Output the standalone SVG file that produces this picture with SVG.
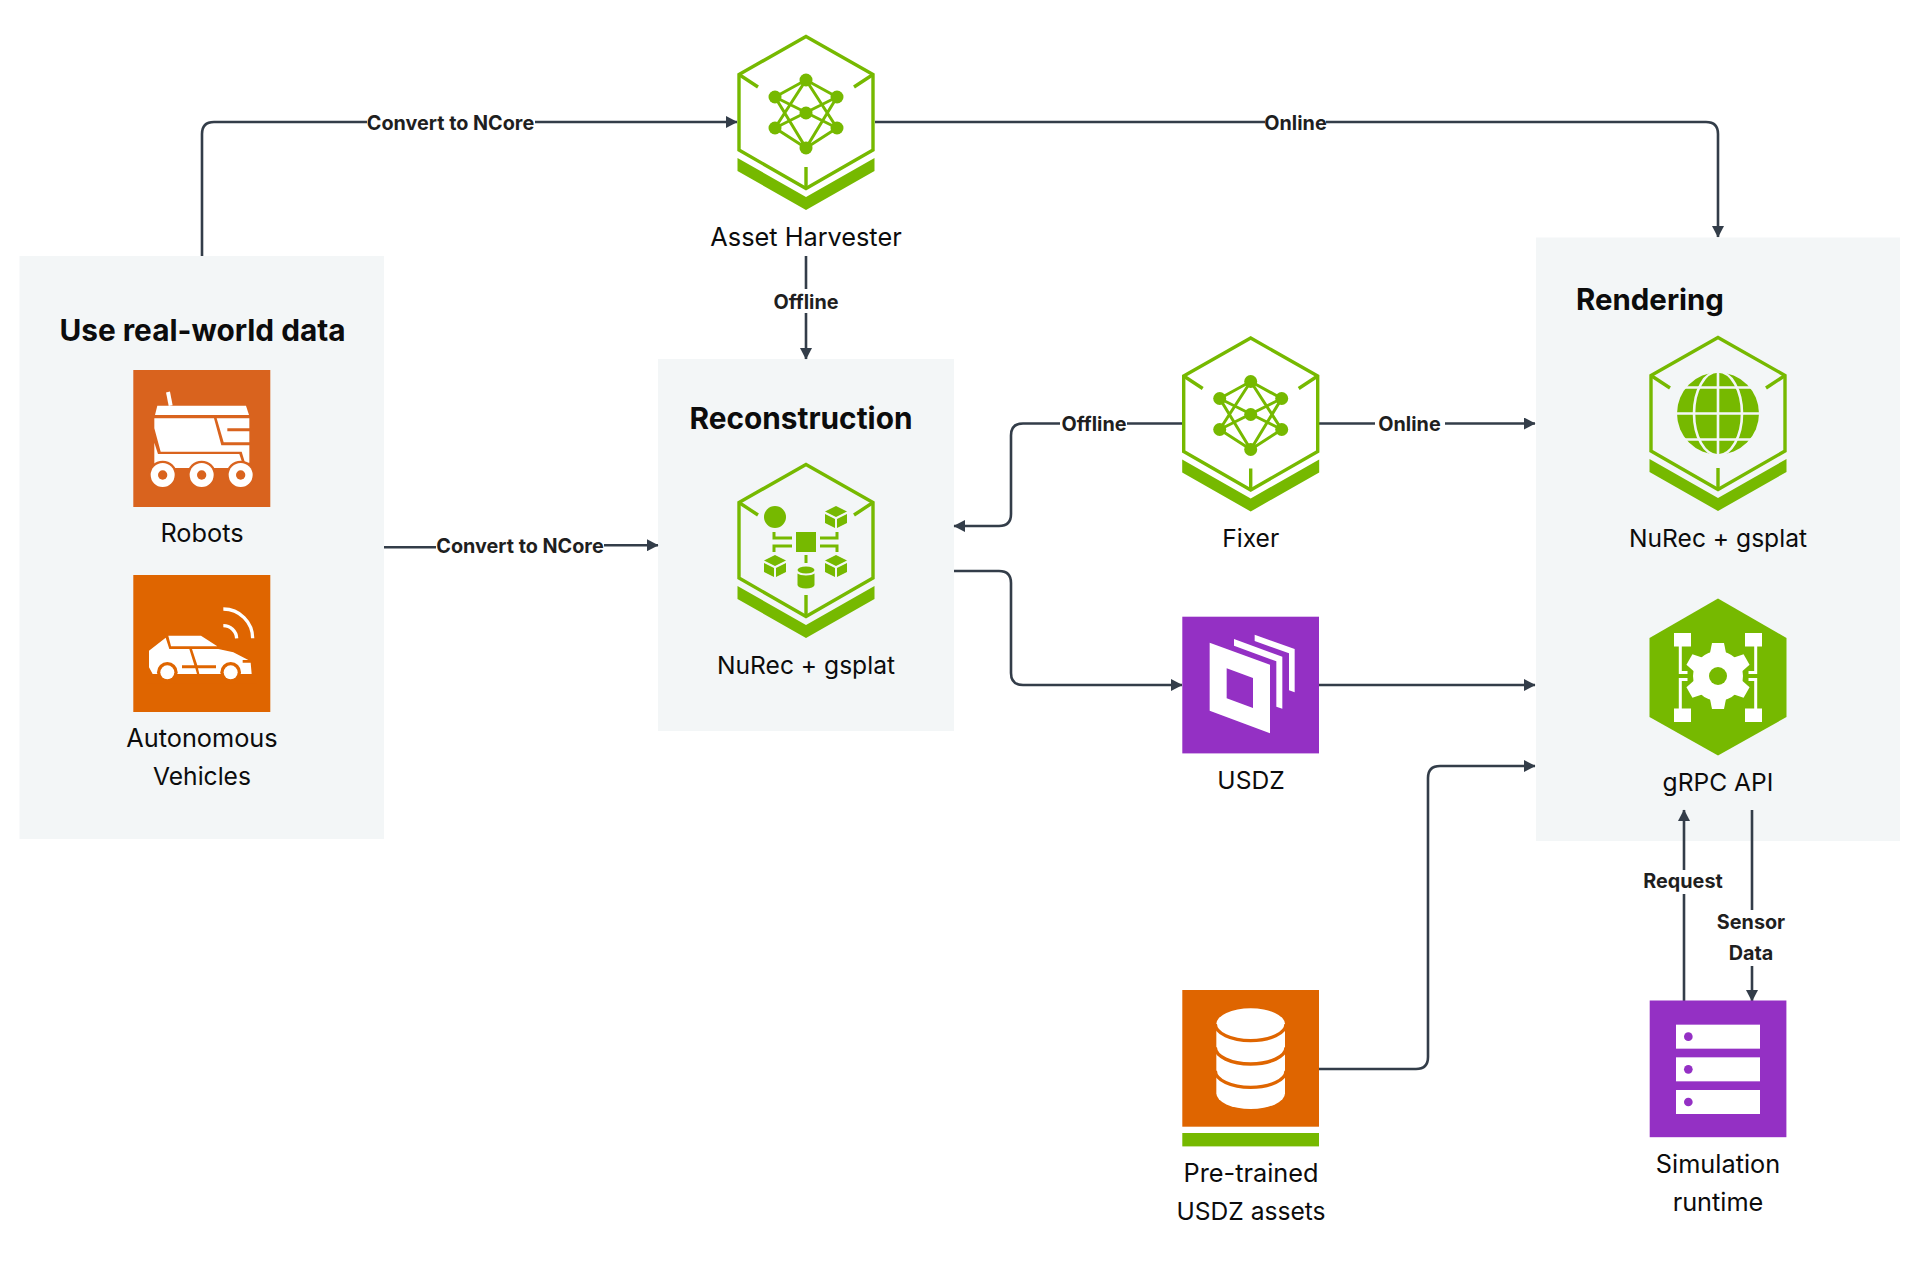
<svg xmlns="http://www.w3.org/2000/svg" xmlns:xlink="http://www.w3.org/1999/xlink" width="1920" height="1280" viewBox="0 0 1920 1280">
<style>
text{font-family:"Inter","Liberation Sans",sans-serif;text-anchor:middle;fill:#0c0c0c}
.lb{font-size:25.300px;font-weight:400}
.s{font-size:24.600px}
.ti{font-size:29.800px;font-weight:700}
.cl{font-size:19.800px;font-weight:700;fill:#1f1f1f}
.pn{fill:#f3f6f7}
.ln{fill:none;stroke:#333d49;stroke-width:2.600;stroke-linejoin:round}
.hx{fill:none;stroke:#76b900;stroke-width:3.400}
.gf{fill:#76b900}
.gl{stroke:#76b900;stroke-width:3;fill:none}
.w{fill:#fff}
.bg{fill:#fff}
</style>
<defs>
<marker id="ah" markerWidth="12" markerHeight="12" refX="11" refY="6" orient="auto" markerUnits="userSpaceOnUse"><path d="M0,0 L11.500,6 L0,12 Z" fill="#333d49"/></marker>
<g id="hexbase">
<path class="hx" d="M0 1.500L67 39.500V115L0 153.500L-67 115V39.500Z"/>
<path class="hx" d="M-67 39.500L-48 52M67 39.500L48 52M0 153.500V132"/>
<path class="gf" d="M-68.500 123L0 162L68.500 123V136L0 175L-68.500 136Z"/>
</g>
<g id="net">
<path class="gl" d="M0 45L-31 62M0 45L31 62M0 45L-31 93M0 45L31 93M0 113L-31 62M0 113L31 62M0 113L-31 93M0 113L31 93M-31 62L31 93M31 62L-31 93"/>
<g class="gf"><circle cx="0" cy="45" r="6.500"/><circle cx="-31" cy="62" r="6.500"/><circle cx="31" cy="62" r="6.500"/><circle cx="-31" cy="93" r="6.500"/><circle cx="31" cy="93" r="6.500"/><circle cx="0" cy="78" r="6.500"/><circle cx="0" cy="113" r="6.500"/></g>
</g>
<g id="cube" class="gf"><path d="M0-11L11-5.500L0 0L-11-5.500Z"/><path d="M-11-3L-1 2V11L-11 6Z"/><path d="M11-3L1 2V11L11 6Z"/></g>
</defs>
<rect width="1920" height="1280" fill="#fff"/>
<g id="panels">
<rect class="pn" x="19.500" y="256" width="364.500" height="583"/>
<rect class="pn" x="658" y="359" width="296" height="372"/>
<rect class="pn" x="1536" y="237.500" width="364" height="603.500"/>
</g>
<g id="connectors">
<path class="ln" marker-end="url(#ah)" d="M202 256V134Q202 122 214 122H737"/>
<path class="ln" marker-end="url(#ah)" d="M875 122H1706Q1718 122 1718 134V237"/>
<path class="ln" marker-end="url(#ah)" d="M806 256V359"/>
<path class="ln" marker-end="url(#ah)" d="M1182 423.500H1023Q1011 423.500 1011 435.500V514Q1011 526 999 526H954"/>
<path class="ln" marker-end="url(#ah)" d="M1319 423.500H1535"/>
<path class="ln" marker-end="url(#ah)" d="M384 547.300H520V545.200H658"/>
<path class="ln" marker-end="url(#ah)" d="M954 571H999Q1011 571 1011 583V673Q1011 685 1023 685H1182"/>
<path class="ln" marker-end="url(#ah)" d="M1319 685H1535"/>
<path class="ln" marker-end="url(#ah)" d="M1319 1069H1416Q1428 1069 1428 1057V778Q1428 766 1440 766H1535"/>
<path class="ln" marker-end="url(#ah)" d="M1684 1001V810"/>
<path class="ln" marker-end="url(#ah)" d="M1752 810V1001"/>
<g id="conn-labels">
<rect class="bg" x="367" y="110" width="168" height="24"/><text class="cl" x="450.500" y="129.500">Convert to NCore</text>
<rect class="bg" x="1265" y="110" width="61" height="24"/><text class="cl" x="1295.500" y="129.500">Online</text>
<rect class="bg" x="770" y="289" width="72" height="24"/><text class="cl" x="806" y="308.500">Offline</text>
<rect class="bg" x="1060" y="411" width="67" height="24"/><text class="cl" x="1094" y="430.500">Offline</text>
<rect class="bg" x="1375" y="411" width="70" height="24"/><text class="cl" x="1409.500" y="430.500">Online</text>
<rect class="bg" x="436" y="534" width="168" height="24"/><text class="cl" x="520" y="553">Convert to NCore</text>
<rect class="bg" x="1640" y="870" width="88" height="24"/><text class="cl" x="1683" y="888">Request</text>
<rect class="bg" x="1712" y="910" width="80" height="56"/><text class="cl" x="1751" y="929">Sensor</text><text class="cl" x="1751" y="960">Data</text>
</g>
</g>
<g id="use-real-world-data"><text class="ti" x="202.500" y="341">Use real-world data</text></g>
<g id="robots">
<rect x="133.300" y="370" width="137" height="137" fill="#d9631e"/>
<g transform="translate(0 240) scale(.33333)">
<path d="M504 456L512 497" stroke="#fff" stroke-width="12"/>
<path class="w" d="M472 497H738L747 525H465Z"/>
<path class="w" d="M463 535H642L664 616H748V668H735L725 635H482L463 565Z"/>
<path class="w" d="M650 535H748V565H682V574H748V607H671Z"/>
<path class="w" d="M463 608L474 642H718L728 672V684H463Z"/>
<g fill="#d9631e"><circle cx="488" cy="705" r="43"/><circle cx="605" cy="705" r="43"/><circle cx="722" cy="705" r="43"/></g>
<g class="w"><circle cx="488" cy="705" r="36"/><circle cx="605" cy="705" r="36"/><circle cx="722" cy="705" r="36"/></g>
<g fill="#d9631e"><circle cx="488" cy="705" r="14"/><circle cx="605" cy="705" r="14"/><circle cx="722" cy="705" r="14"/></g>
</g>
<text class="lb" x="202" y="541.500">Robots</text>
</g>
<g id="autonomous-vehicles">
<rect x="133.300" y="575" width="137" height="137" fill="#df6500"/>
<g transform="translate(0 560) scale(.33333)">
<path d="M670 147A88 88 0 0 1 758 235M670 197A40 40 0 0 1 710 235" fill="none" stroke="#fff" stroke-width="10"/>
<path class="w" d="M505 227H603L652 259H513Z"/>
<path class="w" d="M447 272L497 233L508 267H568L583 316H546V325H586L591 342H458L447 322Z"/>
<path class="w" d="M576 267H655L700 277L745 300H728V308H752L755 342H598L594 325H648V316H592Z"/>
<g fill="#df6500"><circle cx="502" cy="337" r="31"/><circle cx="692" cy="337" r="31"/></g>
<path fill="#df6500" d="M440 342H770V370H440Z"/>
<g class="w"><circle cx="502" cy="337" r="21"/><circle cx="692" cy="337" r="21"/></g>
</g>
<text class="lb" x="202" y="746.500">Autonomous</text>
<text class="lb s" x="202" y="785">Vehicles</text>
</g>
<g id="asset-harvester" transform="translate(806 35)">
<use xlink:href="#hexbase"/><use xlink:href="#net"/>
<text class="lb" x="0" y="210.500">Asset Harvester</text>
</g>
<g id="reconstruction"><text class="ti" x="801" y="429">Reconstruction</text></g>
<g id="nurec-gsplat-recon" transform="translate(806 463)">
<use xlink:href="#hexbase"/>
<circle class="gf" cx="-31" cy="54" r="11"/>
<rect class="gf" x="-10" y="69" width="20" height="20"/>
<use xlink:href="#cube" x="30" y="54"/><use xlink:href="#cube" x="-31" y="103"/><use xlink:href="#cube" x="30" y="103"/>
<path class="gl" stroke-width="2.500" d="M-32 69V75H-14M-14 83H-32V89M14 75H31V69M14 83H31V89M0 92V100"/>
<path class="gf" d="M-8.500 107A8.500 3.500 0 0 1 8.500 107A8.500 3.500 0 0 1 -8.500 107ZM-8.500 110.500C-6 113 6 113 8.500 110.500V122A8.500 3.500 0 0 1 -8.500 122Z"/>
<text class="lb s" x="0" y="210.500">NuRec + gsplat</text>
</g>
<g id="fixer" transform="translate(1250.700 336.500)">
<use xlink:href="#hexbase"/><use xlink:href="#net"/>
<text class="lb s" x="0" y="210.500">Fixer</text>
</g>
<g id="usdz">
<rect x="1182.300" y="616.700" width="136.700" height="136.700" fill="#9430c4"/>
<g transform="translate(1150 600) scale(.33333)" class="w">
<path fill-rule="evenodd" d="M179 128L360 194V400L179 332ZM230 205V295L309 324V234Z"/>
<path d="M252 117L397 170V326L379 320V184L252 137Z"/>
<path d="M314 104L434 147V277L417 271V160L314 123Z"/>
</g>
<text class="lb s" x="1251" y="788.500">USDZ</text>
</g>
<g id="pre-trained-usdz">
<rect x="1182.300" y="990" width="136.700" height="136.700" fill="#df6500"/>
<rect class="gf" x="1182.300" y="1133" width="136.700" height="13.400"/>
<g transform="translate(1160 980) scale(.33333)">
<path class="w" d="M169 132V340A103 47 0 0 0 375 340V132Z"/>
<ellipse class="w" cx="272" cy="132" rx="103" ry="47"/>
<path fill="none" stroke="#df6500" stroke-width="10" d="M166 132A106 50 0 0 0 378 132M166 202A106 50 0 0 0 378 202M166 272A106 50 0 0 0 378 272"/>
</g>
<text class="lb" x="1251" y="1181.500">Pre-trained</text>
<text class="lb s" x="1251" y="1220">USDZ assets</text>
</g>
<g id="rendering"><text class="ti" x="1650" y="310" style="font-size:29.400px">Rendering</text></g>
<g id="nurec-gsplat-render" transform="translate(1718 336)">
<use xlink:href="#hexbase"/>
<circle class="gf" cx="0" cy="77.500" r="41"/>
<g fill="none" stroke="#f3f6f7" stroke-width="2.600"><path d="M-41 51.500H41M-45 77.500H45M-41 103.500H41M0 36V119"/><ellipse cx="0" cy="77.500" rx="24" ry="42"/></g>
<text class="lb s" x="0" y="211">NuRec + gsplat</text>
</g>
<g id="grpc-api">
<path class="gf" d="M1718 598.500L1786.500 638V717L1718 755.500L1649.500 717V638Z"/>
<g transform="translate(1718 676)" class="w">
<circle r="25"/>
<path d="M-8-23L-6-33H6L8-23Z"/>
<path d="M-8-23L-6-33H6L8-23Z" transform="rotate(60)"/>
<path d="M-8-23L-6-33H6L8-23Z" transform="rotate(120)"/>
<path d="M-8-23L-6-33H6L8-23Z" transform="rotate(180)"/>
<path d="M-8-23L-6-33H6L8-23Z" transform="rotate(240)"/>
<path d="M-8-23L-6-33H6L8-23Z" transform="rotate(300)"/>
<circle r="9" fill="#76b900"/>
<rect x="-44" y="-43" width="17" height="13.500"/><rect x="27" y="-43" width="17" height="13.500"/>
<rect x="-44" y="32.500" width="17" height="13.500"/><rect x="27" y="32.500" width="17" height="13.500"/>
<path fill="none" stroke="#fff" stroke-width="3" d="M-37.700 -30V-3.500H-30.500M-37.700 33V3.500H-30.500M37.700 -30V-3.500H30.500M37.700 33V3.500H30.500"/>
</g>
<text class="lb s" x="1718" y="790.500">gRPC API</text>
</g>
<g id="simulation-runtime">
<rect x="1649.700" y="1000.500" width="136.700" height="136.700" fill="#9430c4"/>
<g transform="translate(1630 800) scale(.33333)">
<g class="w"><rect x="138" y="674" width="252" height="72"/><rect x="138" y="772" width="252" height="72"/><rect x="138" y="870" width="252" height="72"/></g>
<g fill="#9430c4"><circle cx="175" cy="710" r="13"/><circle cx="175" cy="808" r="13"/><circle cx="175" cy="906" r="13"/></g>
</g>
<text class="lb" x="1718" y="1172.500">Simulation</text>
<text class="lb" x="1718" y="1210.500">runtime</text>
</g>
</svg>
